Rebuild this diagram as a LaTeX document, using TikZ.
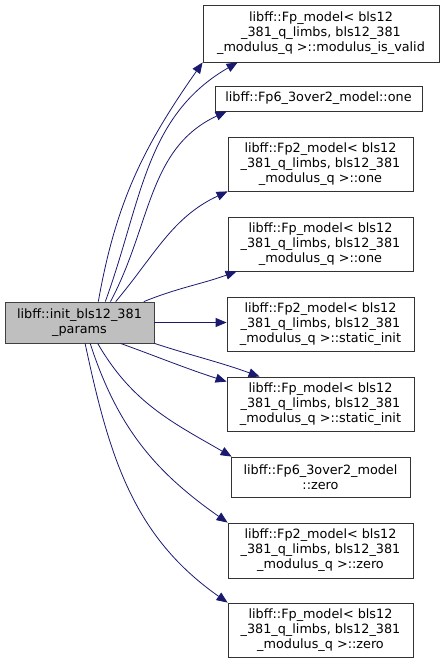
\documentclass[tikz,border=0pt]{standalone}
\usepackage{fontspec}
\setmainfont{DejaVu Sans}
\usetikzlibrary{arrows.meta}
\definecolor{edgeblue}{HTML}{191970}
\definecolor{srcgray}{HTML}{BFBFBF}

\begin{document}
\begin{tikzpicture}[x=1pt, y=1pt,
		fn/.style={draw=black!80, rectangle, align=center, inner sep=0pt, line width=0.8pt, font=\fontsize{12.8}{15}\selectfont},
		call/.style={-{Triangle[length=11pt,width=9pt]}, edgeblue, line width=0.8pt}]
		\useasboundingbox (0, 0) rectangle (444, 664);

		% caller
		\node[fn, fill=srcgray, draw=black!75, minimum width=149, minimum height=41] (src) at (79.5, 341.5) {libff::init\_bls12\_381\\\_params};

		% callees
		\node[fn, minimum width=236, minimum height=57] (mv) at (321, 630.5) {libff::Fp\_model< bls12\\\_381\_q\_limbs, bls12\_381\\\_modulus\_q >::modulus\_is\_valid};
		\node[fn, minimum width=207, minimum height=25] (f6one) at (318.5, 565.5) {libff::Fp6\_3over2\_model::one};
		\node[fn, minimum width=185, minimum height=54] (f2one) at (320.5, 500) {libff::Fp2\_model< bls12\\\_381\_q\_limbs, bls12\_381\\\_modulus\_q >::one};
		\node[fn, minimum width=185, minimum height=54] (fpone) at (320.5, 420) {libff::Fp\_model< bls12\\\_381\_q\_limbs, bls12\_381\\\_modulus\_q >::one};
		\node[fn, minimum width=187, minimum height=54] (f2si) at (320.5, 340) {libff::Fp2\_model< bls12\\\_381\_q\_limbs, bls12\_381\\\_modulus\_q >::static\_init};
		\node[fn, minimum width=187, minimum height=54] (fpsi) at (320.5, 260) {libff::Fp\_model< bls12\\\_381\_q\_limbs, bls12\_381\\\_modulus\_q >::static\_init};
		\node[fn, minimum width=179, minimum height=40] (f6zero) at (320.5, 187) {libff::Fp6\_3over2\_model\\::zero};
		\node[fn, minimum width=185, minimum height=55] (f2zero) at (320.5, 113.5) {libff::Fp2\_model< bls12\\\_381\_q\_limbs, bls12\_381\\\_modulus\_q >::zero};
		\node[fn, minimum width=185, minimum height=54] (fpzero) at (320.5, 34) {libff::Fp\_model< bls12\\\_381\_q\_limbs, bls12\_381\\\_modulus\_q >::zero};

		% calls
		\draw[call]	(src.48) to[out=80, in=235] (mv.south west);
		\draw[call]	(src.39) to[out=70, in=210] ([xshift=35pt]mv.south west);
		\draw[call]	(src.34) to[out=62, in=205] ([xshift=12pt]f6one.south west);
		\draw[call]	(src.30) to[out=50, in=205] (f2one.south west);
		\draw[call]	(src.18) to[out=22, in=200] ([xshift=9pt]fpone.south west);
		\draw[call]	(src.east) to (src.east -| f2si.west);
		\draw[call]	(src.south east) to[out=-18, in=160] ([xshift=33pt]fpsi.north west);
		\draw[call]	(src.-27) to[out=-20, in=162] ([yshift=-5pt]fpsi.north west);
		\draw[call]	(src.-49.5) to[out=-60, in=150] ([xshift=1pt]f6zero.north west);
		\draw[call]	(src.-63) to[out=-72, in=145] (f2zero.north west);
		\draw[call]	(src.-75) to[out=-78, in=145] (fpzero.north west);
\end{tikzpicture}
\end{document}
